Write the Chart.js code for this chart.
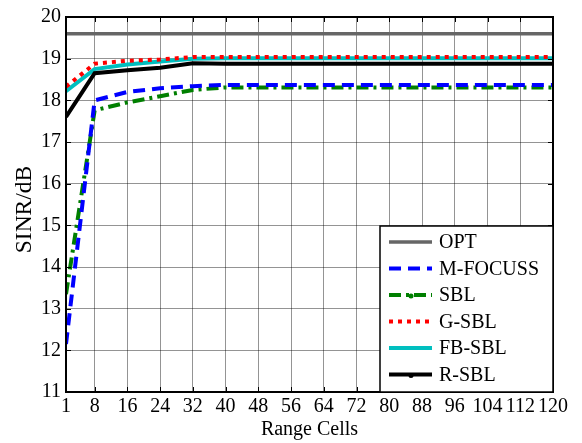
<!DOCTYPE html>
<html>
<head>
<meta charset="utf-8">
<script src="https://cdn.jsdelivr.net/npm/chart.js@4/dist/chart.umd.min.js"></script>
<style>
html,body{margin:0;padding:0;background:#fff;}
#wrap{width:582px;height:443px;position:relative;}
</style>
</head>
<body>
<div id="wrap"><canvas id="c" width="582" height="443"></canvas></div>
<script>
const cells = [1, 8, 16, 24, 32, 40, 48, 56, 64, 72, 80, 88, 96, 104, 112, 120];
const xTicks = [1, 8, 16, 24, 32, 40, 48, 56, 64, 72, 80, 88, 96, 104, 112, 120];
const yTicks = [11, 12, 13, 14, 15, 16, 17, 18, 19, 20];
const seriesNames = ['OPT', 'M-FOCUSS', 'SBL', 'G-SBL', 'FB-SBL', 'R-SBL'];
const opt     = [19.6, 19.6, 19.6, 19.6, 19.6, 19.6, 19.6, 19.6, 19.6, 19.6, 19.6, 19.6, 19.6, 19.6, 19.6, 19.6];
const mfocuss = [12.15, 18.0, 18.2, 18.29, 18.34, 18.37, 18.37, 18.37, 18.37, 18.37, 18.37, 18.37, 18.37, 18.37, 18.37, 18.37];
const sbl     = [13.35, 17.76, 17.95, 18.1, 18.25, 18.31, 18.31, 18.31, 18.31, 18.31, 18.31, 18.31, 18.31, 18.31, 18.31, 18.31];
const gsbl    = [18.33, 18.88, 18.95, 18.98, 19.04, 19.04, 19.04, 19.04, 19.04, 19.04, 19.04, 19.04, 19.04, 19.04, 19.04, 19.04];
const fbsbl   = [18.22, 18.75, 18.86, 18.93, 19.0, 19.01, 19.01, 19.01, 19.01, 19.01, 19.01, 19.01, 19.01, 19.01, 19.01, 19.01];
const rsbl    = [17.6, 18.65, 18.72, 18.78, 18.89, 18.88, 18.88, 18.88, 18.88, 18.88, 18.88, 18.88, 18.88, 18.88, 18.88, 18.88];
const yTitle = 'SINR/dB';
const xTitle = 'Range Cells';

const FONT = '"Liberation Serif", "Times New Roman", serif';
const pts = arr => cells.map((c, i) => ({x: c, y: arr[i]}));

const styles = [
  {color: '#666666', width: 3.5, dash: [], order: 5},
  {color: '#0000ff', width: 4, dash: [12, 7], order: 3},
  {color: '#007f00', width: 4, dash: [12, 5, 3, 5], order: 4, dot: true},
  {color: '#ff0000', width: 4, dash: [4, 5], order: 0},
  {color: '#00bfbf', width: 4, dash: [], order: 2},
  {color: '#000000', width: 4, dash: [], order: 1, dot: true}
];
const values = [opt, mfocuss, sbl, gsbl, fbsbl, rsbl];

const datasets = seriesNames.map((n, i) => ({
  label: n,
  data: pts(values[i]),
  borderColor: styles[i].color,
  backgroundColor: styles[i].color,
  borderWidth: styles[i].width,
  borderDash: styles[i].dash,
  pointRadius: 0,
  tension: 0,
  fill: false,
  order: styles[i].order
}));

const framePlugin = {
  id: 'frame',
  afterDraw(chart) {
    const ctx = chart.ctx;
    const a = chart.chartArea;
    const xs = chart.scales.x, ys = chart.scales.y;
    ctx.save();
    // inward ticks
    ctx.strokeStyle = '#000';
    ctx.lineWidth = 1;
    ctx.beginPath();
    xTicks.forEach(t => {
      const px = Math.round(xs.getPixelForValue(t)) + 0.5;
      ctx.moveTo(px, a.bottom); ctx.lineTo(px, a.bottom - 5);
      ctx.moveTo(px, a.top); ctx.lineTo(px, a.top + 5);
    });
    yTicks.forEach(t => {
      const py = Math.round(ys.getPixelForValue(t)) + 0.5;
      ctx.moveTo(a.left, py); ctx.lineTo(a.left + 5, py);
      ctx.moveTo(a.right, py); ctx.lineTo(a.right - 5, py);
    });
    ctx.stroke();
    // frame
    ctx.lineWidth = 2;
    ctx.strokeRect(a.left, a.top, a.right - a.left, a.bottom - a.top);

    // y title
    ctx.save();
    ctx.translate(25, (a.top + a.bottom) / 2 + 5);
    ctx.rotate(-Math.PI / 2);
    ctx.fillStyle = '#000';
    ctx.font = '23.5px ' + FONT;
    ctx.textAlign = 'center';
    ctx.textBaseline = 'middle';
    ctx.fillText(yTitle, 0, 0);
    ctx.restore();

    // legend
    const lw = 173, lh = 166;
    const lx = a.right - lw, ly = a.bottom - lh;
    ctx.fillStyle = '#fff';
    ctx.fillRect(lx, ly, lw, lh);
    ctx.lineWidth = 1.5;
    ctx.strokeStyle = '#000';
    ctx.strokeRect(lx, ly, lw, lh);
    const rowH = 26.5;
    seriesNames.forEach((n, i) => {
      const cy = ly + 16 + i * rowH;
      const s = styles[i];
      ctx.save();
      ctx.strokeStyle = s.color;
      ctx.lineWidth = s.width;
      ctx.setLineDash(s.dash);
      ctx.beginPath();
      ctx.moveTo(lx + 9, cy);
      ctx.lineTo(lx + 52, cy);
      ctx.stroke();
      ctx.setLineDash([]);
      if (s.dot) {
        ctx.fillStyle = s.color;
        ctx.beginPath();
        ctx.arc(lx + 31, cy + 1, 2.5, 0, Math.PI * 2);
        ctx.fill();
      }
      ctx.restore();
      ctx.fillStyle = '#000';
      ctx.font = '20px ' + FONT;
      ctx.textBaseline = 'middle';
      ctx.textAlign = 'left';
      ctx.fillText(n, lx + 59, cy + 1);
    });
    ctx.restore();
  }
};

new Chart(document.getElementById('c'), {
  type: 'line',
  data: {datasets},
  options: {
    responsive: false,
    animation: false,
    devicePixelRatio: 1,
    layout: {padding: {top: 10, right: 29, left: 0, bottom: 0}},
    plugins: {legend: {display: false}, tooltip: {enabled: false}},
    scales: {
      x: {
        type: 'linear',
        min: 1, max: 120,
        afterBuildTicks: s => { s.ticks = xTicks.map(v => ({value: v})); },
        afterFit: s => { s.height = 51; },
        grid: {color: 'rgba(0,0,0,0.42)', lineWidth: 1, drawTicks: false},
        border: {display: false},
        ticks: {color: '#000', font: {family: FONT, size: 20}, padding: 3, maxRotation: 0, autoSkip: false,
                callback: v => String(v)},
        title: {display: true, text: xTitle, color: '#000', font: {family: FONT, size: 20}, padding: {top: 0, bottom: 1}}
      },
      y: {
        type: 'linear',
        min: 11, max: 20,
        afterBuildTicks: s => { s.ticks = yTicks.map(v => ({value: v})); },
        afterFit: s => { s.width = 66; },
        grid: {color: 'rgba(0,0,0,0.42)', lineWidth: 1, drawTicks: false},
        border: {display: false},
        ticks: {color: '#000', font: {family: FONT, size: 20}, padding: 5, callback: v => String(v)},
        title: {display: false}
      }
    }
  },
  plugins: [framePlugin]
});
</script>
</body>
</html>
